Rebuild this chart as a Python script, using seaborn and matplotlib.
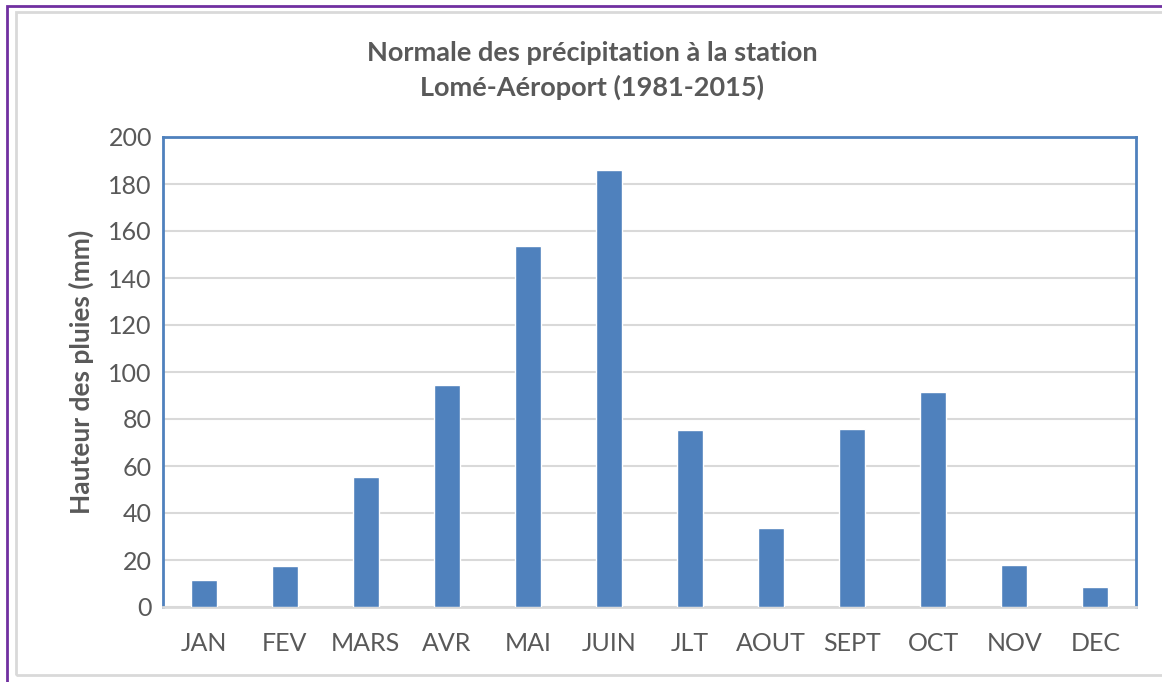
import numpy as np
import pandas as pd
import matplotlib
matplotlib.use("Agg")
import matplotlib.pyplot as plt
import seaborn as sns
from matplotlib.patches import Rectangle

# Monthly rainfall normals, Lomé-Aéroport (1981-2015)
mois = ["JAN", "FEV", "MARS", "AVR", "MAI", "JUIN",
        "JLT", "AOUT", "SEPT", "OCT", "NOV", "DEC"]
pluie_mm = [11.5, 17.4, 55.3, 94.5, 153.6, 186.0,
            75.3, 33.6, 75.7, 91.5, 17.9, 8.5]
y_ticks = [0, 20, 40, 60, 80, 100, 120, 140, 160, 180, 200]

def main():
    sns.set_theme(style="white")
    plt.rcParams['font.family'] = ['Lato', 'DejaVu Sans']

    df = pd.DataFrame({"mois": mois, "pluie": pluie_mm})

    fig = plt.figure(figsize=(11.62, 6.82), dpi=100)
    ax = fig.add_axes([163/1162, 1-607/682, 973/1162, 470/682])

    # figure frames
    fig.patches.append(Rectangle((7/1162, -0.01), 1.02, 1-6/682+0.01,
                                 transform=fig.transFigure, fill=False,
                                 edgecolor="#7030a0", linewidth=2))
    fig.patches.append(Rectangle((16/1162, 1-675/682), 1.02, (675-12)/682,
                                 transform=fig.transFigure, fill=False,
                                 edgecolor="#d9d9d9", linewidth=2))

    sns.barplot(data=df, x="mois", y="pluie", color="#4f81bd",
                saturation=1, width=0.32, ax=ax, zorder=3)

    ax.set_ylim(0, 200)
    ax.set_yticks(y_ticks)
    ax.yaxis.grid(True, color="#d9d9d9", linewidth=1.5, zorder=0)
    ax.set_axisbelow(True)
    for s in ax.spines.values():
        s.set_visible(True)
        s.set_color("#4f81bd")
        s.set_linewidth(2)
    ax.spines["bottom"].set_color("#d9d9d9")

    ax.tick_params(axis="both", labelsize=18, labelcolor="#595959",
                   length=0)
    ax.tick_params(axis="x", pad=18)
    ax.tick_params(axis="y", pad=8)
    ax.set_xlabel("")
    ax.set_ylabel("Hauteur des pluies (mm)", fontsize=19, color="#595959",
                  fontweight="bold", labelpad=10)

    fig.text(592/1162, 1-53/682, "Normale des précipitation à la station",
             ha="center", va="center", fontsize=19.5, fontweight="bold",
             color="#595959")
    fig.text(592/1162, 1-87/682, "Lomé-Aéroport (1981-2015)",
             ha="center", va="center", fontsize=19.5, fontweight="bold",
             color="#595959")

    fig.savefig("out.png", dpi=100)

if __name__ == "__main__":
    main()
